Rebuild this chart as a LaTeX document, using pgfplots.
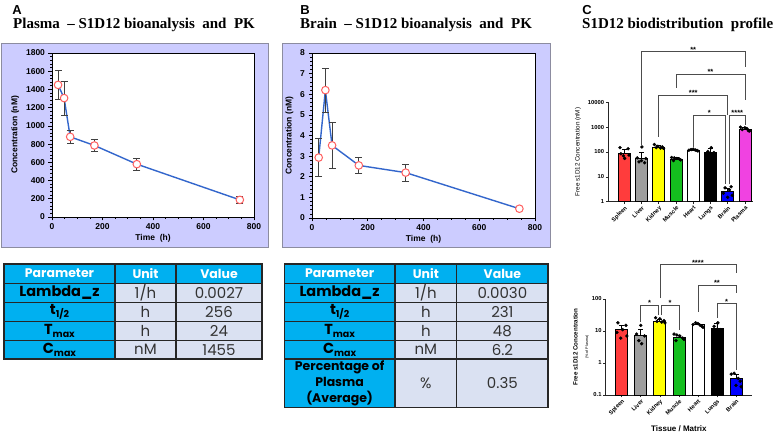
\documentclass[border=0pt]{standalone}
\usepackage{fontspec}
\setmainfont{Liberation Sans}
\newfontfamily\titlefont{Liberation Serif}
\newfontfamily\tabfont{Poppins}
\usepackage{pgfplots}
\pgfplotsset{compat=1.18}

\definecolor{panelbg}{RGB}{204,204,255}
\definecolor{panelframe}{RGB}{140,140,160}
\definecolor{cyanhead}{RGB}{0,176,240}
\definecolor{cellbg}{RGB}{218,225,242}
\definecolor{pkline}{RGB}{51,102,204}
\definecolor{pkmark}{RGB}{255,95,95}
\definecolor{cSpleen}{RGB}{255,60,60}
\definecolor{cLiver}{RGB}{158,158,158}
\definecolor{cKidney}{RGB}{255,255,0}
\definecolor{cMuscle}{RGB}{20,190,30}
\definecolor{cHeart}{RGB}{255,255,255}
\definecolor{cLungs}{RGB}{0,0,0}
\definecolor{cBrain}{RGB}{0,0,255}
\definecolor{cPlasma}{RGB}{240,66,225}

\newcommand\sub[1]{\raisebox{-0.45ex}{\fontsize{9.5}{10}\selectfont #1}}

\pgfplotsset{
  pkaxis/.style={
    anchor=south west, scale only axis,
    tick pos=left, tick align=outside,
    major tick length=3.5pt, minor tick length=2pt,
    every tick/.style={black, line width=0.7pt},
    axis line style={line width=0.9pt},
    axis background/.style={fill=white},
    ticklabel style={font=\fontsize{8.5}{9}\selectfont\bfseries},
    label style={font=\fontsize{8.5}{9}\selectfont\bfseries},
    xlabel={Time\ \ (h)}, ylabel={Concentration (nM)},
    xmin=0, xmax=800, xtick={0,200,...,800}, minor x tick num=3,
    xlabel style={yshift=3pt},
    clip=false,
  },
  pkplot/.style={
    pkline, line width=1.4pt, mark=*, mark size=3.8pt,
    mark options={draw=pkmark, fill=white, line width=1pt},
    error bars/y dir=both, error bars/y explicit,
    error bars/error bar style={black!75, line width=0.8pt},
    error bars/error mark options={rotate=90, mark size=3.5pt, line width=0.8pt, black!75},
  },
  bdaxis/.style={
    anchor=south west, scale only axis,
    axis x line*=bottom, axis y line*=left,
    axis line style={line width=0.8pt, black!85},
    tick align=outside, major tick length=2.5pt, yminorticks=false,
    every tick/.style={black!85, line width=0.6pt},
    x tick label style={rotate=45, anchor=north east, inner sep=0.8pt,
      font=\fontsize{5.8}{6}\selectfont\bfseries},
    yticklabel style={font=\fontsize{5.8}{6}\selectfont\bfseries, inner sep=1.5pt},
    clip=false,
  },
  tissuebar/.style={ybar, bar width=12pt, bar shift=0pt, draw=black, line width=0.7pt, fill=#1,
    error bars/y dir=plus, error bars/y explicit,
    error bars/error bar style={black, line width=0.7pt},
    error bars/error mark options={rotate=90, mark size=2.5pt, line width=0.7pt, black}},
  animaldots/.style={only marks, mark=*, mark size=1.5pt, black},
}
\pgfkeys{/pgf/number format/1000 sep={}, /pgf/number format/assume math mode=true}
\tikzset{
  brk/.style={black!70, line width=0.6pt},
  sig/.style={font=\fontsize{7.5}{8}\selectfont\bfseries, anchor=south, inner sep=0.5pt, yshift=-1.5pt},
  hdr/.style={font=\tabfont\bfseries\fontsize{12.5}{14}\selectfont, text=white},
  par/.style={font=\tabfont\bfseries\fontsize{14.5}{16}\selectfont},
  val/.style={font=\tabfont\fontsize{15}{17}\selectfont, text=black!80},
  ttl/.style={anchor=west, inner sep=0pt, font=\titlefont\bfseries\fontsize{15}{17}\selectfont},
  letter/.style={font=\fontsize{13}{14}\selectfont\bfseries},
}

\begin{document}
\begin{tikzpicture}
% panel backgrounds, headings and parameter tables
\begin{scope}[x=1pt, y=-1pt, yshift=435pt]
  \filldraw[fill=panelbg, draw=panelframe, line width=0.8pt] (1,43) rectangle (268,247);
  \filldraw[fill=panelbg, draw=panelframe, line width=0.8pt] (282,43) rectangle (550,247);

  \node[letter] at (17,10) {A};
  \node[letter] at (305,10) {B};
  \node[letter] at (587,10) {C};
  \node[ttl] at (13,25) {Plasma\ \ –\ S1D12\ bioanalysis\ \ and\ \ PK};
  \node[ttl] at (300,25) {Brain\ \ –\ S1D12\ bioanalysis\ \ and\ \ PK};
  \node[ttl] at (582,25) {S1D12\ biodistribution\ \ profile};

  % table A
  \fill[cyanhead] (4,264) rectangle (262,283.3);
  \fill[cyanhead] (4,283.3) rectangle (115,359);
  \fill[cellbg] (115,283.3) rectangle (262,359);
  \draw[line width=1.2pt, black!85] (4,264) rectangle (262,359);
  \foreach \yy in {283.3,302.3,321.7,340.5} \draw[line width=1.2pt, black!85] (4,\yy) -- (262,\yy);
  \foreach \xx in {115,176} \draw[line width=1.2pt, black!85] (\xx,264) -- (\xx,359);
  \node[hdr] at (59.5,273.6) {Parameter};
  \node[hdr] at (145.5,273.6) {Unit};
  \node[hdr] at (219,273.6) {Value};
  \node[par] at (59.5,292.8) {Lambda\_z};
  \node[par] at (59.5,312) {t\sub{1/2}};
  \node[par] at (59.5,331.1) {T\sub{max}};
  \node[par] at (59.5,349.8) {C\sub{max}};
  \node[val] at (145.5,292.8) {1/h};
  \node[val] at (145.5,312) {h};
  \node[val] at (145.5,331.1) {h};
  \node[val] at (145.5,349.8) {nM};
  \node[val] at (219,292.8) {0.0027};
  \node[val] at (219,312) {256};
  \node[val] at (219,331.1) {24};
  \node[val] at (219,349.8) {1455};

  % table B
  \fill[cyanhead] (284.3,264) rectangle (548,283.3);
  \fill[cyanhead] (284.3,283.3) rectangle (395,407.3);
  \fill[cellbg] (395,283.3) rectangle (548,407.3);
  \draw[line width=1.2pt, black!85] (284.3,264) rectangle (548,407.3);
  \foreach \yy in {283.3,302.3,321.7,340.5,359} \draw[line width=1.2pt, black!85] (284.3,\yy) -- (548,\yy);
  \foreach \xx in {395,456.7} \draw[line width=1.2pt, black!85] (\xx,264) -- (\xx,407.3);
  \node[hdr] at (339.6,273.6) {Parameter};
  \node[hdr] at (425.9,273.6) {Unit};
  \node[hdr] at (502.4,273.6) {Value};
  \node[par] at (339.6,292.8) {Lambda\_z};
  \node[par] at (339.6,312) {t\sub{1/2}};
  \node[par] at (339.6,331.1) {T\sub{max}};
  \node[par] at (339.6,349.8) {C\sub{max}};
  \node[par, align=center, font=\tabfont\bfseries\fontsize{12.5}{16}\selectfont] at (339.6,383.2) {Percentage of\\Plasma\\(Average)};
  \node[val] at (425.9,292.8) {1/h};
  \node[val] at (425.9,312) {h};
  \node[val] at (425.9,331.1) {h};
  \node[val] at (425.9,349.8) {nM};
  \node[val] at (425.9,383.2) {\%};
  \node[val] at (502.4,292.8) {0.0030};
  \node[val] at (502.4,312) {231};
  \node[val] at (502.4,331.1) {48};
  \node[val] at (502.4,349.8) {6.2};
  \node[val] at (502.4,383.2) {0.35};
\end{scope}

% plasma concentration-time profile
\begin{axis}[pkaxis, at={(52pt,218pt)}, width=202pt, height=164pt,
  ymin=0, ymax=1800, ytick={0,200,...,1800}, minor y tick num=4]
\addplot[pkplot] coordinates {
  (24,1450) +- (0,160)
  (48,1305) +- (0,185)
  (72,880)  +- (0,75)
  (168,785) +- (0,62)
  (336,580) +- (0,65)
  (744,188) +- (0,38)
};
\end{axis}

% brain concentration-time profile
\begin{axis}[pkaxis, at={(312pt,217pt)}, width=223pt, height=165pt,
  ymin=0, ymax=8, ytick={0,1,...,8}, minor y tick num=4]
\addplot[pkplot] coordinates {
  (24,2.93)  +- (0,0.92)
  (48,6.2)   +- (0,1.07)
  (72,3.52)  +- (0,1.13)
  (168,2.55) +- (0,0.39)
  (336,2.2)  +- (0,0.41)
  (744,0.45) +- (0,0.08)
};
\end{axis}

% free concentration per tissue (nM)
\begin{axis}[bdaxis, ymode=log, log origin=infty,
  at={(608.3pt,233.3pt)}, width=144.7pt, height=99.4pt,
  ymin=1, ymax=10000, xmin=-0.93, xmax=7.47,
  xtick={0,...,7}, xticklabels={Spleen,Liver,Kidney,Muscle,Heart,Lungs,Brain,Plasma},
  ytick={1,10,100,1000,10000}, yticklabels={1,10,100,1000,10000},
  ylabel={Free s1D12 Concentration (nM)},
  ylabel style={font=\fontsize{6.3}{7}\selectfont, yshift=2pt}]
\addplot[tissuebar=cSpleen] coordinates {(0,89) +- (0,35)};
\addplot[tissuebar=cLiver]  coordinates {(1,56) +- (0,40)};
\addplot[tissuebar=cKidney] coordinates {(2,155) +- (0,30)};
\addplot[tissuebar=cMuscle] coordinates {(3,52) +- (0,8)};
\addplot[tissuebar=cHeart]  coordinates {(4,120) +- (0,10)};
\addplot[tissuebar=cLungs]  coordinates {(5,100) +- (0,45)};
\addplot[tissuebar=cBrain]  coordinates {(6,2.5) +- (0,1.0)};
\addplot[tissuebar=cPlasma] coordinates {(7,820) +- (0,120)};
\addplot[animaldots] coordinates {
  (-0.25,150) (0.22,135) (-0.2,85) (0.27,75) (0.02,55) (-0.05,70)
  (0.75,58) (1.02,160) (1.25,55) (0.85,40) (1.18,37) (1.0,45)
  (1.75,200) (1.95,170) (2.2,160) (1.85,150) (2.1,145) (2.28,140)
  (2.75,60) (2.9,58) (3.05,55) (3.2,52) (3.27,48) (2.85,45)
  (3.75,118) (3.88,125) (4.0,130) (4.12,120) (4.22,115) (4.27,110)
  (5.05,150) (4.85,105) (5.2,95)
  (5.75,2.2) (5.85,3.6) (6.0,1.5) (6.1,3.0) (6.2,4.0) (6.27,1.8)
  (6.75,1000) (6.85,800) (7.0,950) (7.12,880) (7.2,720) (7.27,700)
};
% significance brackets
\draw[brk] (axis cs:1,200) |- (axis cs:7,1.09e6) -- (axis cs:7,2.7e5);
\node[sig] at (axis cs:4,1.09e6) {**};
\draw[brk] (axis cs:3,3.8e4) |- (axis cs:7,1.38e5) -- (axis cs:7,1.23e4);
\node[sig] at (axis cs:5,1.38e5) {**};
\draw[brk] (axis cs:2,410) |- (axis cs:6,1.97e4) -- (axis cs:6,3100);
\node[sig] at (axis cs:4,1.97e4) {***};
\draw[brk] (axis cs:4,165) |- (axis cs:5.88,3100) -- (axis cs:5.88,5);
\node[sig] at (axis cs:4.94,3100) {*};
\draw[brk] (axis cs:6.12,5) |- (axis cs:7,3100) -- (axis cs:7,1230);
\node[sig] at (axis cs:6.56,3100) {****};
\end{axis}

% free concentration relative to plasma (%)
\begin{axis}[bdaxis, ymode=log, log origin=infty,
  at={(605.7pt,40pt)}, width=146.3pt, height=96pt,
  ymin=0.1, ymax=100, xmin=-0.84, xmax=6.84,
  xtick={0,...,6}, xticklabels={Spleen,Liver,Kidney,Muscle,Heart,Lungs,Brain},
  ytick={0.1,1,10,100}, yticklabels={0.1,1,10,100},
  xlabel={Tissue / Matrix},
  xlabel style={font=\fontsize{8}{9}\selectfont\bfseries, yshift=-5pt},
  ylabel={\fontsize{6.2}{7}\selectfont\bfseries Free s1D12 Concentration\\[-1.5pt]\fontsize{3.8}{4}\selectfont (\% of Plasma)},
  ylabel style={align=center, yshift=-2pt}]
\addplot[tissuebar=cSpleen] coordinates {(0,11) +- (0,4)};
\addplot[tissuebar=cLiver]  coordinates {(1,7.5) +- (0,3.5)};
\addplot[tissuebar=cKidney] coordinates {(2,20) +- (0,3)};
\addplot[tissuebar=cMuscle] coordinates {(3,6.5) +- (0,1)};
\addplot[tissuebar=cHeart]  coordinates {(4,16) +- (0,1.5)};
\addplot[tissuebar=cLungs]  coordinates {(5,12.5) +- (0,5)};
\addplot[tissuebar=cBrain]  coordinates {(6,0.33) +- (0,0.12)};
\addplot[animaldots] coordinates {
  (-0.2,18) (0.22,15) (0.05,11) (-0.25,9) (0.27,7) (-0.05,6)
  (1.0,15) (0.78,8) (1.2,7) (0.9,5) (1.05,4)
  (1.78,26) (2.0,24) (2.22,21) (1.85,20) (2.1,19) (2.27,18)
  (2.75,8) (2.9,7.5) (3.05,7) (3.2,6) (3.27,5.5) (2.85,5)
  (3.75,16) (3.88,18) (4.0,17) (4.12,15) (4.22,14) (4.27,13)
  (5.05,18) (4.85,14) (5.2,11)
  (5.75,0.45) (5.9,0.48) (6.0,0.2) (6.12,0.33) (6.22,0.27) (6.27,0.18)
};
\draw[brk] (axis cs:2,107) |- (axis cs:6,1213) -- (axis cs:6,646);
\node[sig] at (axis cs:4,1213) {****};
\draw[brk] (axis cs:4,40) |- (axis cs:6,274) -- (axis cs:6,154);
\node[sig] at (axis cs:5,274) {**};
\draw[brk] (axis cs:5,25.5) |- (axis cs:6,73.5) -- (axis cs:6,0.6);
\node[sig] at (axis cs:5.5,73.5) {*};
\draw[brk] (axis cs:1,19.5) |- (axis cs:1.92,65) -- (axis cs:1.92,31.6);
\node[sig] at (axis cs:1.46,65) {*};
\draw[brk] (axis cs:2.08,31.6) |- (axis cs:3,65) -- (axis cs:3,10.7);
\node[sig] at (axis cs:2.54,65) {*};
\end{axis}

\pgfresetboundingbox
\path[use as bounding box] (0,0) rectangle (777pt,435pt);
\end{tikzpicture}
\end{document}
